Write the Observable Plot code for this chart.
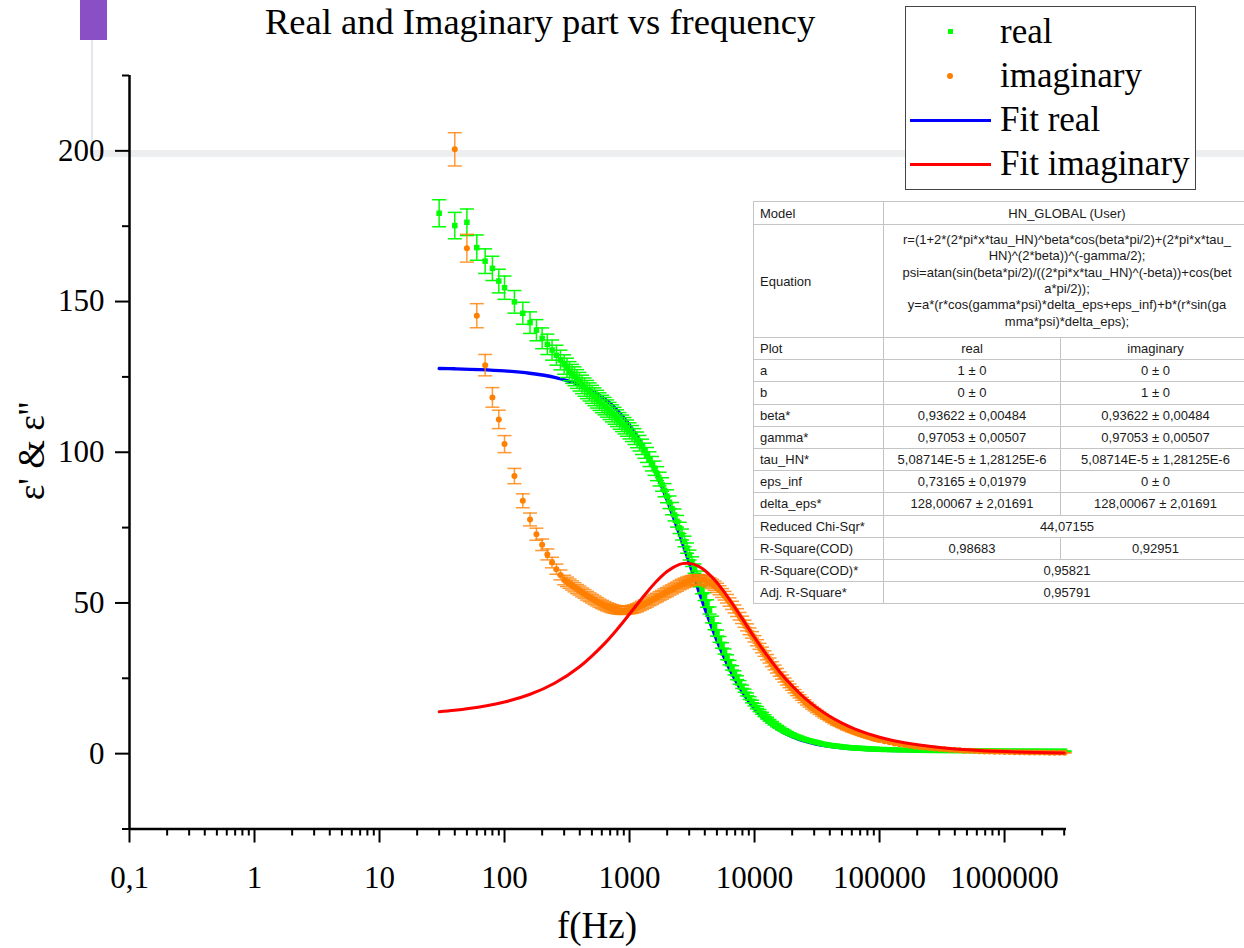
<!DOCTYPE html>
<html><head><meta charset="utf-8">
<script src="https://cdn.jsdelivr.net/npm/d3@7"></script>
<script src="https://cdn.jsdelivr.net/npm/@observablehq/plot@0.6"></script>
<style>
html,body{margin:0;padding:0;background:#fff;}
#wrap{position:relative;width:1244px;height:948px;overflow:hidden;background:#fff;font-family:"Liberation Serif","Times New Roman",serif;color:#000;}
.abs{position:absolute;}
.txt{white-space:nowrap;line-height:1;}
#chart{position:absolute;left:0;top:0;z-index:1;}
#tbl{position:absolute;left:753px;top:201px;width:497px;table-layout:fixed;border-collapse:collapse;font-family:"Liberation Sans",Arial,sans-serif;font-size:13px;color:#1a1a1a;background:#fff;z-index:3;border:1.5px solid #222;}
#tbl td{border:1px solid #c4c4c4;padding:0 0 0 6px;line-height:15px;vertical-align:middle;overflow:hidden;white-space:nowrap;}
#tbl td.c{text-align:center;padding:0;}
#tbl td.eq{line-height:16.3px;}
</style>
</head><body>
<div id="wrap">
  <div class="abs" style="left:80px;top:0;width:27px;height:40px;background:#8b4fc5;z-index:0"></div>
  <div class="abs" style="left:91px;top:40px;width:2px;height:112px;background:#e4e8ed;z-index:0"></div>
  <div class="abs" style="left:91px;top:150px;width:1153px;height:7px;background:#eceef0;z-index:0"></div>
  <div id="chart"></div>
</div>
<script>
// ---------- data ----------
const title = "Real and Imaginary part vs frequency";
const xLabel = "f(Hz)";
const yLabel = "ε' & ε''";
const seriesNames = ["real", "imaginary", "Fit real", "Fit imaginary"];
const colors = {real: "#00ff00", imag: "#ff8000", fitReal: "#0000ff", fitImag: "#ff0000"};

const xMajor = [0.1, 1, 10, 100, 1000, 10000, 100000, 1000000];
const xTickLabels = ["0,1", "1", "10", "100", "1000", "10000", "100000", "1000000"];
const xMinor = [0.2,0.3,0.4,0.5,0.6,0.7,0.8,0.9, 2,3,4,5,6,7,8,9, 20,30,40,50,60,70,80,90,
  200,300,400,500,600,700,800,900, 2000,3000,4000,5000,6000,7000,8000,9000,
  20000,30000,40000,50000,60000,70000,80000,90000, 200000,300000,400000,500000,600000,700000,800000,900000,
  2000000,3000000];
const yMajor = [0, 50, 100, 150, 200];
const yMinor = [-25, 25, 75, 125, 175, 225];

// low-frequency measured points
const realFreqLow = [30,40,50,60,70,80,90,100,120,140,160,180,200,220,240,260,280,300];
const realLow = [179.3,175.2,176.3,167.9,163.4,161.0,156.8,154.6,149.9,146.1,143.0,140.5,137.8,135.8,133.9,132.2,130.6,129.1];
const imagFreqLow = [40,50,60,70,80,90,100,120,140,160,180,200,220,240,260,280,300];
const imagLow = [200.5,167.7,145.3,128.9,118.2,110.9,102.7,92.1,83.9,77.7,72.8,69.3,66.1,63.4,61.2,59.3,57.6];

// dense measured points (higher frequencies)
const denseFreq = [316,331,347,363,380,398,417,437,457,479,501,525,550,575,603,631,661,692,724,759,794,832,871,912,955,
  1000,1047,1096,1148,1202,1259,1318,1380,1445,1514,1585,1660,1738,1820,1905,1995,2089,2188,2291,2399,2512,2630,2754,2884,3020,
  3162,3311,3467,3631,3802,3981,4169,4365,4571,4786,5012,5248,5495,5754,6026,6310,6607,6918,7244,7586,7943,8318,8710,9120,9550,
  10000,10470,10960,11480,12020,12590,13180,13800,14450,15140,15850,16600,17380,18200,19050,19950,20890,21880,22910,23990,25120,
  26300,27540,28840,30200,31620,33110,34670,36310,38020,39810,41690,43650,45710,47860,50120,52480,54950,57540,60260,63100,
  66070,69180,72440,75860,79430,83180,87100,91200,95500,100000,
  109600,120200,131800,144500,158500,173800,190500,208900,229100,251200,275400,302000,331100,363100,398100,436500,478600,
  524800,575400,631000,691800,758600,831800,912000,
  1000000,1096000,1202000,1318000,1445000,1585000,1738000,1905000,2089000,2291000,2512000,2754000,3020000];
const realDense = [128.0,126.9,126.0,125.2,124.3,123.4,122.5,121.6,120.8,120.0,119.2,118.4,117.6,116.8,116.0,115.3,114.5,113.7,112.9,112.1,111.3,110.4,109.6,108.8,108.0,
  107.1,106.2,105.2,104.1,103.0,101.8,100.5,99.1,97.7,96.2,94.7,92.9,91.1,89.3,87.4,85.4,83.4,81.3,79.2,77.1,74.9,72.7,70.4,68.2,65.9,
  63.7,61.4,59.1,56.8,54.4,52.1,49.8,47.5,44.5,42.2,40.0,37.9,35.9,33.9,32.0,30.2,28.45,26.8,25.2,23.65,22.2,20.9,19.65,18.45,17.3,
  16.25,15.25,14.3,13.4,12.6,11.8,11.05,10.4,9.75,9.15,8.6,8.05,7.6,7.15,6.75,6.3,6.0,5.65,5.35,5.05,4.75,
  4.55,4.3,4.1,3.9,3.7,3.5,3.3,3.1,2.95,2.8,2.7,2.6,2.5,2.4,2.3,2.2,2.1,2.0,1.95,1.9,
  1.85,1.8,1.75,1.7,1.65,1.6,1.55,1.5,1.46,1.43,
  1.38,1.32,1.28,1.24,1.2,1.17,1.14,1.11,1.09,1.07,1.05,1.03,1.02,1.0,0.99,0.98,0.97,
  0.96,0.95,0.94,0.93,0.93,0.92,0.91,
  0.91,0.9,0.9,0.89,0.89,0.88,0.88,0.87,0.87,0.86,0.86,0.85,0.85];
const imagDense = [57.0,56.4,55.8,55.2,54.6,54.1,53.5,53.0,52.4,51.9,51.4,50.9,50.4,49.9,49.5,49.1,48.7,48.4,48.1,47.9,47.7,47.6,47.5,47.5,47.6,
  47.7,47.9,48.1,48.4,48.8,49.2,49.6,50.0,50.5,50.9,51.4,51.8,52.3,52.7,53.2,53.6,54.1,54.5,55.0,55.4,55.9,56.3,56.7,57.0,57.3,
  57.5,57.7,57.8,57.8,57.7,57.5,57.2,56.8,56.3,55.7,55.0,54.2,53.3,52.4,51.4,50.3,49.2,48.0,46.8,45.6,44.4,43.1,41.9,40.6,39.4,
  38.1,36.8,35.6,34.4,33.2,32.0,30.9,29.7,28.6,27.5,26.4,25.4,24.4,23.4,22.5,21.6,20.7,19.8,19.0,18.2,17.4,
  16.6,15.9,15.2,14.6,14.0,13.4,12.8,12.2,11.7,11.2,10.7,10.2,9.7,9.3,8.9,8.5,8.1,7.8,7.4,7.1,
  6.8,6.5,6.2,5.9,5.65,5.4,5.15,4.9,4.7,4.5,
  4.1,3.75,3.4,3.1,2.85,2.6,2.4,2.2,2.0,1.85,1.7,1.55,1.42,1.3,1.2,1.1,1.0,
  0.93,0.86,0.8,0.74,0.69,0.64,0.6,
  0.56,0.52,0.49,0.46,0.43,0.41,0.39,0.37,0.35,0.33,0.31,0.3,0.29];
const realErrPct = 2.5;   // error bar half-length, % of value
const imagErrPct = 2.75;

// fitted curves
const fitFreq = [30,39.8,63.1,100,158.5,251.2,398.1,631,794.3,1000,1258.9,1584.9,1995.3,2511.9,2818.4,3162.3,3548.1,3981.1,5011.9,6309.6,7943.3,
  10000,12589,15849,19953,25119,31623,39811,50119,63096,100000,158489,316228,630957,1258925,3000000];
const fitReal = [127.80,127.69,127.43,126.99,126.22,124.86,122.36,117.67,113.98,109.02,102.52,94.26,84.26,72.78,66.73,60.59,54.49,48.54,37.54,28.17,20.67,
  14.95,10.75,7.74,5.62,4.15,3.13,2.42,1.93,1.60,1.19,0.99,0.85,0.79,0.76,0.74];
const fitImag = [13.94,14.40,15.48,17.13,19.62,23.36,28.84,36.52,41.21,46.32,51.56,56.47,60.44,62.78,63.16,62.97,62.19,60.84,56.69,51.13,44.87,
  38.54,32.57,27.19,22.52,18.53,15.19,12.41,10.12,8.25,5.45,3.60,1.96,1.05,0.56,0.245];

// fit report table
const tableModel = "HN_GLOBAL (User)";
const tableEquation = [
  "r=(1+2*(2*pi*x*tau_HN)^beta*cos(beta*pi/2)+(2*pi*x*tau_",
  "HN)^(2*beta))^(-gamma/2);",
  "psi=atan(sin(beta*pi/2)/((2*pi*x*tau_HN)^(-beta))+cos(bet",
  "a*pi/2));",
  "y=a*(r*cos(gamma*psi)*delta_eps+eps_inf)+b*(r*sin(ga",
  "mma*psi)*delta_eps);"];
const tableRows = [
  ["Plot", "real", "imaginary"],
  ["a", "1 ± 0", "0 ± 0"],
  ["b", "0 ± 0", "1 ± 0"],
  ["beta*", "0,93622 ± 0,00484", "0,93622 ± 0,00484"],
  ["gamma*", "0,97053 ± 0,00507", "0,97053 ± 0,00507"],
  ["tau_HN*", "5,08714E-5 ± 1,28125E-6", "5,08714E-5 ± 1,28125E-6"],
  ["eps_inf", "0,73165 ± 0,01979", "0 ± 0"],
  ["delta_eps*", "128,00067 ± 2,01691", "128,00067 ± 2,01691"],
  ["Reduced Chi-Sqr*", "44,07155"],
  ["R-Square(COD)", "0,98683", "0,92951"],
  ["R-Square(COD)*", "0,95821"],
  ["Adj. R-Square*", "0,95791"]];

// ---------- build ----------
const realData = realFreqLow.map((f, i) => ({f, v: realLow[i]}))
  .concat(denseFreq.map((f, i) => ({f, v: realDense[i]})));
const imagData = imagFreqLow.map((f, i) => ({f, v: imagLow[i]}))
  .concat(denseFreq.map((f, i) => ({f, v: imagDense[i]})));
const fitData = fitFreq.map((f, i) => ({f, re: fitReal[i], im: fitImag[i]}));

const cap = {draw(ctx) { ctx.moveTo(-7, 0); ctx.lineTo(7, 0); }};
const lo = p => d => d.v * (1 - p / 100);
const hi = p => d => d.v * (1 + p / 100);

function errMarks(data, pct, color, op) {
  return [
    Plot.ruleX(data, {x: "f", y1: lo(pct), y2: hi(pct), stroke: color, strokeWidth: 1.5, strokeOpacity: op}),
    Plot.dot(data, {x: "f", y: hi(pct), symbol: cap, fill: "none", stroke: color, strokeWidth: 1.5, strokeOpacity: op}),
    Plot.dot(data, {x: "f", y: lo(pct), symbol: cap, fill: "none", stroke: color, strokeWidth: 1.5, strokeOpacity: op})
  ];
}

const chart = Plot.plot({
  width: 1244, height: 948,
  marginLeft: 129, marginRight: 178, marginTop: 75, marginBottom: 119.5,
  x: {type: "log", domain: [0.1, 3130000]},
  y: {domain: [-25, 225]},
  style: {background: "none", fontFamily: "'Liberation Serif','Times New Roman',serif", fontSize: "31px", color: "#000", overflow: "visible"},
  marks: [
    Plot.line(fitData, {x: "f", y: "re", stroke: colors.fitReal, strokeWidth: 3.4, curve: "catmull-rom"}),
    ...errMarks(realData, realErrPct, colors.real, 1),
    Plot.dot(realData, {x: "f", y: "v", symbol: "square", r: 3.1, fill: colors.real}),
    ...errMarks(imagData, imagErrPct, colors.imag, 0.8),
    Plot.dot(imagData, {x: "f", y: "v", symbol: "circle", r: 3, fill: colors.imag}),
    Plot.line(fitData, {x: "f", y: "im", stroke: colors.fitImag, strokeWidth: 3, curve: "catmull-rom"}),
    Plot.axisY({ticks: yMajor, tickSize: 14, tickPadding: 11, strokeWidth: 2, label: null}),
    Plot.axisY({ticks: yMinor, tickSize: 7, tickFormat: () => "", strokeWidth: 2, label: null}),
    Plot.axisX({ticks: xMajor, tickSize: 14, tickPadding: 23, strokeWidth: 2, label: null,
      tickFormat: d => xTickLabels[xMajor.indexOf(d)]}),
    Plot.axisX({ticks: xMinor, tickSize: 7, tickFormat: () => "", strokeWidth: 2, label: null}),
    Plot.ruleX([0.1], {strokeWidth: 2.5}),
    Plot.ruleY([-25], {strokeWidth: 2.5})
  ]
});
document.getElementById("chart").appendChild(chart);

const wrap = document.getElementById("wrap");
function addDiv(html, css) {
  const d = document.createElement("div");
  d.className = "abs txt";
  d.style.cssText += css;
  d.innerHTML = html;
  wrap.appendChild(d);
  return d;
}
// title and axis titles
addDiv(title, "left:265px;top:0px;font-size:36.5px;line-height:normal;z-index:2;");
addDiv(xLabel, "left:597px;top:907px;font-size:37px;transform:translateX(-50%);z-index:2;");
addDiv(yLabel, "left:31px;top:451px;font-size:37px;transform:translate(-50%,-50%) rotate(-90deg);z-index:2;");

// legend
addDiv("", "left:905px;top:6px;width:289px;height:182px;border:1.5px solid #444;background:#fff;z-index:2;");
addDiv("", `left:948px;top:29px;width:5px;height:5px;background:${colors.real};z-index:3;`);
addDiv("", `left:947px;top:73px;width:6px;height:6px;border-radius:50%;background:${colors.imag};z-index:3;`);
addDiv("", `left:910px;top:118.5px;width:81px;height:3px;background:${colors.fitReal};z-index:3;`);
addDiv("", `left:910px;top:162.5px;width:81px;height:3px;background:${colors.fitImag};z-index:3;`);
const legendTops = [13.7, 57.7, 101.7, 145.7];
seriesNames.forEach((n, i) => addDiv(n, `left:1000px;top:${legendTops[i]}px;font-size:35px;z-index:3;`));

// table
const tbl = document.createElement("table");
tbl.id = "tbl";
let h = '<colgroup><col style="width:130px"><col style="width:177px"><col style="width:190px"></colgroup>';
h += `<tr style="height:23px"><td>Model</td><td class="c" colspan="2">${tableModel}</td></tr>`;
h += `<tr style="height:113px"><td>Equation</td><td class="c eq" colspan="2">${tableEquation.join("<br>")}</td></tr>`;
tableRows.forEach(r => {
  h += `<tr style="height:22.2px"><td>${r[0]}</td>` +
    (r.length === 2 ? `<td class="c" colspan="2">${r[1]}</td>` : `<td class="c">${r[1]}</td><td class="c">${r[2]}</td>`) + "</tr>";
});
tbl.innerHTML = h;
wrap.appendChild(tbl);
</script>
</body></html>
